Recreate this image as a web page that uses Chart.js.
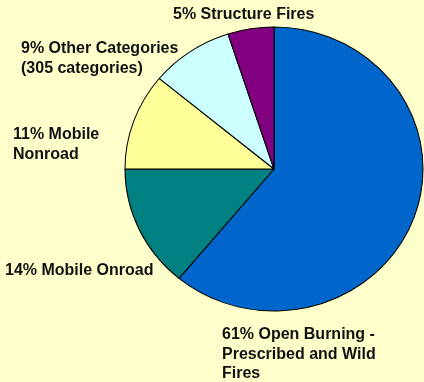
<!DOCTYPE html>
<html>
<head>
<meta charset="utf-8">
<script src="https://cdn.jsdelivr.net/npm/chart.js@4.4.1/dist/chart.umd.min.js"></script>
<style>
    html, body { margin: 0; padding: 0; background: #FFFFCC; }
    #wrap { position: relative; width: 424px; height: 382px; }
</style>
</head>
<body>
<div id="wrap"><canvas id="pie"></canvas></div>
<script>
// Emission shares by source category (percent), clockwise from 12 o'clock
const categories = [
    'Open Burning - Prescribed and Wild Fires',
    'Mobile Onroad',
    'Mobile Nonroad',
    'Other Categories (305 categories)',
    'Structure Fires'
];
const shares = [61, 14, 11, 9, 5];
const sliceColors = ['#0066CC', '#008080', '#FFFF99', '#CCFFFF', '#800080'];

// Label text split into lines; first line gets the percent prefix
const labelLines = [
    ['Open Burning -', 'Prescribed and Wild', 'Fires'],
    ['Mobile Onroad'],
    ['Mobile', 'Nonroad'],
    ['Other Categories', '(305 categories)'],
    ['Structure Fires']
];
// left x and first baseline y of each label block
const labelAnchors = [[222, 339], [5, 275], [13, 139], [21, 53], [173, 19]];

// pie is a bit wider than tall
const stretchX = 149 / 142;

const stretchPlugin = {
    id: 'stretch',
    beforeDatasetsDraw(chart) {
        const arc = chart.getDatasetMeta(0).data[0];
        const ctx = chart.ctx;
        ctx.save();
        ctx.translate(arc.x, arc.y);
        ctx.scale(stretchX, 1);
        ctx.translate(-arc.x, -arc.y);
    },
    afterDatasetsDraw(chart) {
        chart.ctx.restore();
    }
};

const labelPlugin = {
    id: 'sliceLabels',
    afterDraw(chart) {
        const ctx = chart.ctx;
        ctx.save();
        ctx.font = "bold 16px 'Liberation Sans', Arial, sans-serif";
        ctx.fillStyle = '#111111';
        ctx.textAlign = 'left';
        ctx.textBaseline = 'alphabetic';
        labelLines.forEach((lines, i) => {
            const [x, y] = labelAnchors[i];
            lines.forEach((line, j) => {
                const text = j === 0 ? `${shares[i]}% ${line}` : line;
                ctx.fillText(text, x, y + j * 19.5);
            });
        });
        ctx.restore();
    }
};

new Chart(document.getElementById('pie'), {
    type: 'pie',
    data: {
        labels: categories,
        datasets: [{
            data: shares,
            backgroundColor: sliceColors,
            borderColor: '#000000',
            borderWidth: 1
        }]
    },
    options: {
        responsive: true,
        maintainAspectRatio: false,
        animation: false,
        radius: 142,
        layout: { padding: { left: 132, right: 8, top: 27, bottom: 71 } },
        plugins: {
            legend: { display: false },
            tooltip: { enabled: false }
        }
    },
    plugins: [stretchPlugin, labelPlugin]
});
</script>
</body>
</html>
